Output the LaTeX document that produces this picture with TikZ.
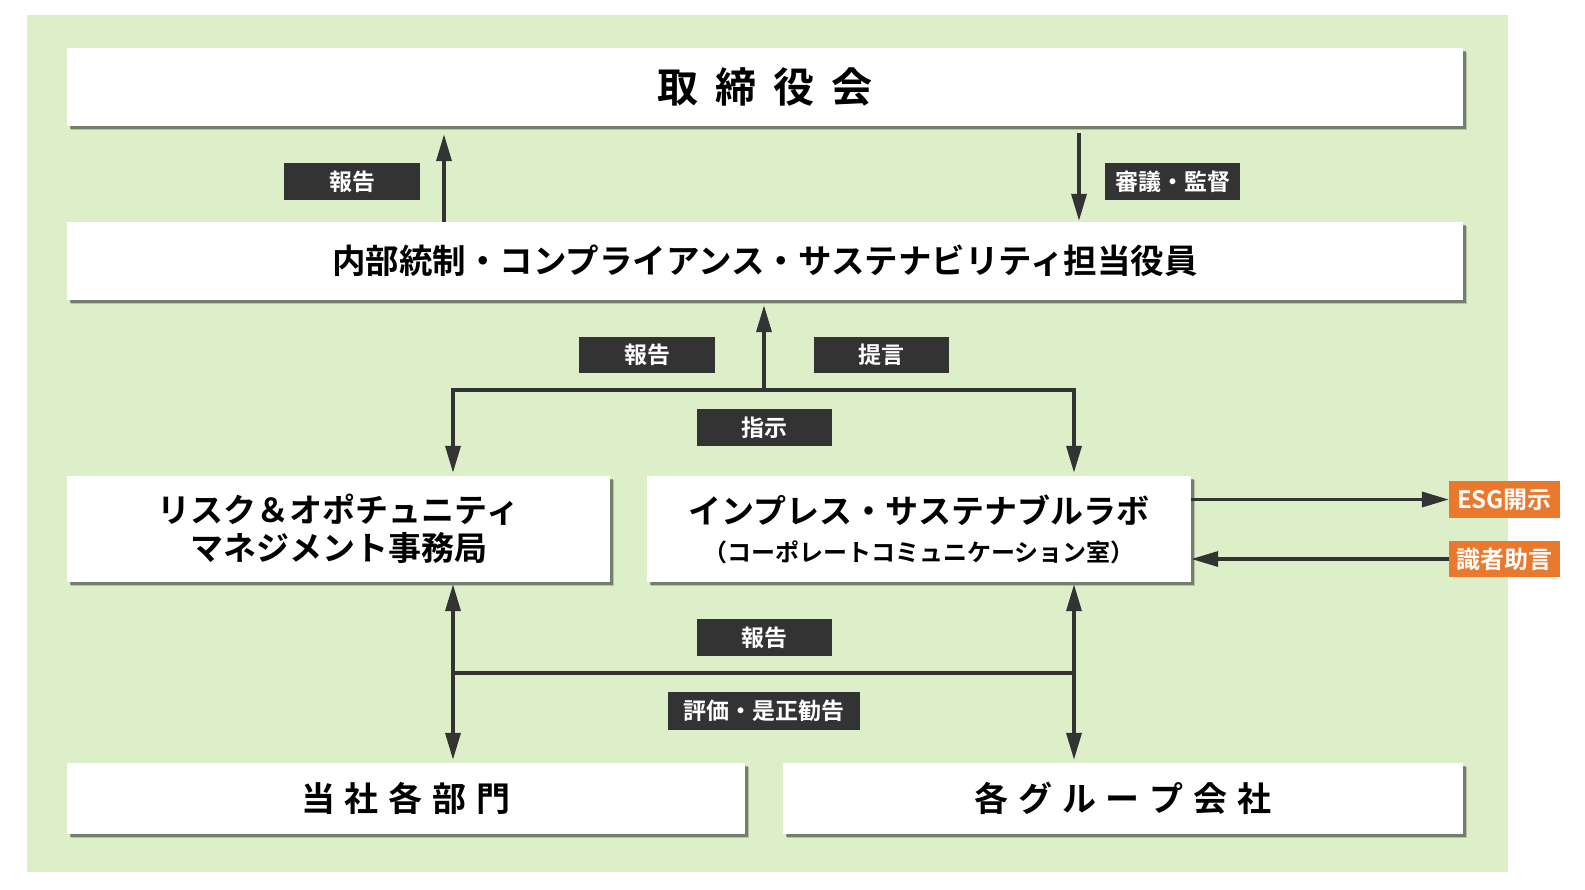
\documentclass[tikz,border=0pt]{standalone}
\usepackage{fontspec}
\setmainfont{Noto Sans CJK JP Bold}
\usetikzlibrary{arrows.meta,shadows}
\definecolor{bggreen}{RGB}{220,239,200}
\definecolor{darkc}{RGB}{51,51,51}
\definecolor{orng}{RGB}{235,121,45}
\newcommand{\gapA}{\hspace{17pt}}
\newcommand{\gapB}{\hspace{10pt}}
\begin{document}
\begin{tikzpicture}[x=1pt,y=-1pt,
 box/.style={fill=white, draw=none, inner sep=0pt, align=center,
   drop shadow={shadow xshift=3.5pt, shadow yshift=-3.5pt, fill=black, opacity=0.18},
   drop shadow={shadow xshift=2.5pt, shadow yshift=-2.5pt, fill=black, opacity=0.35}},
 tag/.style={fill=darkc, text=white, inner sep=0pt, font=\fontsize{23pt}{27pt}\selectfont},
 ext/.style={fill=orng, text=white, inner sep=0pt, font=\fontsize{24pt}{28pt}\selectfont},
 conn/.style={draw=darkc, line width=3.5pt},
 arr/.style={conn, -{Triangle[length=27pt,width=15pt]}},
 darr/.style={conn, {Triangle[length=27pt,width=15pt]}-{Triangle[length=27pt,width=15pt]}},
]
\useasboundingbox (0,0) rectangle (1585,889);
\fill[bggreen] (27,15) rectangle (1508,872);

% main boxes
\node[box, minimum width=1396pt, minimum height=78pt, font=\fontsize{41pt}{48pt}\selectfont]
  (board) at (765,87) {取\gapA 締\gapA 役\gapA 会};
\node[box, minimum width=1396pt, minimum height=78pt, font=\fontsize{33.5pt}{40pt}\selectfont]
  (officer) at (765,261) {内部統制・コンプライアンス・サステナビリティ担当役員};
\node[box, minimum width=543pt, minimum height=106pt, font=\fontsize{33pt}{38pt}\selectfont]
  (risk) at (338.5,529) {リスク＆オポチュニティ\\マネジメント事務局};
\node[box, minimum width=544pt, minimum height=106pt, font=\fontsize{33pt}{38pt}\selectfont]
  (lab) at (919,529) {インプレス・サステナブルラボ\\{\fontsize{24pt}{38pt}\selectfont （コーポレートコミュニケーション室）}};
\node[box, minimum width=678pt, minimum height=71pt, font=\fontsize{34pt}{40pt}\selectfont]
  (dept) at (406,798.5) {当\gapB 社\gapB 各\gapB 部\gapB 門};
\node[box, minimum width=680pt, minimum height=71pt, font=\fontsize{34pt}{40pt}\selectfont]
  (group) at (1123,798.5) {各\gapB グ\gapB ル\gapB ー\gapB プ\gapB 会\gapB 社};

% external boxes
\node[ext, minimum width=111pt, minimum height=37pt] (esg) at (1504.5,499.5) {ESG開示};
\node[ext, minimum width=111pt, minimum height=36pt] (expert) at (1504.5,559) {識者助言};

% labels
\node[tag, minimum width=136pt, minimum height=37pt] (rep1) at (352,181.5) {報告};
\node[tag, minimum width=135pt, minimum height=37pt] (sup) at (1172.5,181.5) {審議・監督};
\node[tag, minimum width=136pt, minimum height=36pt] (rep2) at (647,355) {報告};
\node[tag, minimum width=135pt, minimum height=36pt] (prop) at (881.5,355) {提言};
\node[tag, minimum width=135pt, minimum height=37pt] (inst) at (764.5,427.5) {指示};
\node[tag, minimum width=135pt, minimum height=37pt] (rep3) at (764.5,637.5) {報告};
\node[tag, minimum width=192pt, minimum height=38pt] (eval) at (764,711) {評価・是正勧告};

% coordinates
\coordinate (tu) at (444,0);
\coordinate (td) at (1079,0);
\coordinate (mj) at (764,390);
\coordinate (xL) at (453,0);
\coordinate (xR) at (1074,0);
\coordinate (bL) at (453,673);
\coordinate (bR) at (1074,673);

% top arrows
\draw[arr, shorten >=8pt] (tu |- officer.north) -- (tu |- board.south);
\draw[arr, shorten <=7pt, shorten >=1pt] (td |- board.south) -- (td |- officer.north);

% middle
\draw[arr, shorten >=3pt] (mj) -| (xL |- risk.north);
\draw[arr, shorten >=3pt] (mj) -| (xR |- lab.north);
\draw[arr, shorten >=5pt] (mj) -- (mj |- officer.south);

% bottom
\draw[conn] (bL) -- (bR);
\draw[darr, shorten <=2pt, shorten >=3pt] (xL |- risk.south) -- (xL |- dept.north);
\draw[darr, shorten <=2pt, shorten >=3pt] (xR |- lab.south) -- (xR |- group.north);

% right
\draw[arr] (lab.east |- esg.west) -- (esg.west);
\draw[arr] (expert.west) -- (lab.east |- expert.west);
\end{tikzpicture}
\end{document}
